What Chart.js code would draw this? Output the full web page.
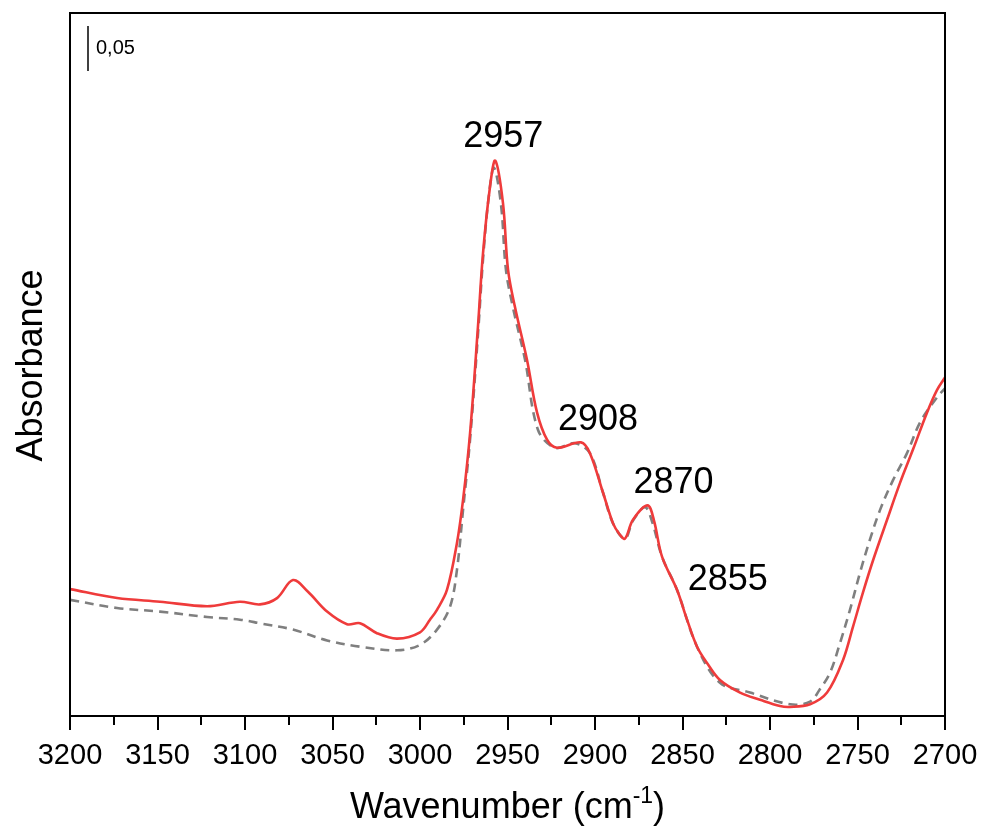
<!DOCTYPE html>
<html>
<head>
<meta charset="utf-8">
<title>Absorbance spectrum</title>
<script src="https://cdn.jsdelivr.net/npm/chart.js@4"></script>
<style>
  html, body { margin: 0; padding: 0; background: #fff; }
  #wrap { width: 981px; height: 829px; }
</style>
</head>
<body>
<div id="wrap"><canvas id="spectrum" width="981" height="829"></canvas></div>
<script>
// sample spectrum (red, solid)
const sampleWavenumber = [
    3200, 3173.1, 3148.6, 3121.7, 3102.9, 3091.4, 3081.7, 3072.6, 3064.0, 3053.1,
    3041.7, 3034.3, 3024.6, 3013.1, 3000.0, 2994.3, 2990.3, 2984.6, 2978.9, 2975.4,
    2971.4, 2966.9, 2964.0, 2960.0, 2957.0, 2952.6, 2949.7, 2945.7, 2938.9, 2933.1,
    2927.4, 2921.7, 2908.0, 2902.9, 2895.4, 2889.7, 2886.0, 2882.9, 2878.3, 2870.0,
    2866.4, 2861.7, 2853.1, 2847.4, 2841.7, 2836.0, 2828.6, 2817.1, 2805.7, 2794.3,
    2788.6, 2777.1, 2767.4, 2758.3, 2752.6, 2746.9, 2741.1, 2733.1, 2725.7, 2718.3,
    2710.3, 2704.6, 2700
];
const sampleAbsorbance = [
    0.141, 0.131, 0.127, 0.122, 0.127, 0.124, 0.131, 0.151, 0.138, 0.116,
    0.102, 0.103, 0.092, 0.086, 0.093, 0.107, 0.118, 0.140, 0.192, 0.240,
    0.314, 0.432, 0.514, 0.588, 0.617, 0.570, 0.496, 0.454, 0.396, 0.337,
    0.307, 0.298, 0.304, 0.292, 0.248, 0.214, 0.202, 0.197, 0.218, 0.234,
    0.218, 0.177, 0.140, 0.107, 0.077, 0.059, 0.040, 0.026, 0.018, 0.011,
    0.010, 0.013, 0.026, 0.062, 0.099, 0.137, 0.173, 0.218, 0.259, 0.296,
    0.337, 0.362, 0.376
];

// reference spectrum (grey, dashed)
const refWavenumber = [
    3200, 3173.1, 3148.6, 3121.7, 3102.9, 3091.4, 3072.6, 3053.1, 3034.3, 3013.1,
    3000.0, 2990.3, 2982.9, 2978.9, 2975.4, 2971.4, 2966.9, 2964.0, 2960.6, 2957.7,
    2953.7, 2950.9, 2946.9, 2940.0, 2932.6, 2922.9, 2911.4, 2902.9, 2895.4, 2889.7,
    2882.9, 2878.3, 2871.4, 2867.4, 2861.7, 2853.1, 2841.7, 2828.6, 2811.4, 2788.6,
    2777.1, 2771.4, 2765.7, 2760.0, 2754.3, 2748.6, 2742.9, 2737.1, 2729.7, 2721.7,
    2714.3, 2704.6, 2700
];
const refAbsorbance = [
    0.129, 0.120, 0.116, 0.110, 0.107, 0.103, 0.096, 0.084, 0.077, 0.073,
    0.079, 0.096, 0.121, 0.162, 0.229, 0.307, 0.423, 0.507, 0.579, 0.609,
    0.568, 0.496, 0.454, 0.396, 0.318, 0.298, 0.303, 0.292, 0.248, 0.214,
    0.197, 0.217, 0.232, 0.216, 0.177, 0.140, 0.077, 0.037, 0.026, 0.013,
    0.016, 0.030, 0.048, 0.081, 0.118, 0.159, 0.196, 0.229, 0.262, 0.292,
    0.326, 0.354, 0.364
];

const xTicks = [3200, 3150, 3100, 3050, 3000, 2950, 2900, 2850, 2800, 2750, 2700];
const peakLabels = [2957, 2908, 2870, 2855];
const scaleBarValue = 0.05;

const FONT = "'Liberation Sans', Arial, sans-serif";

// label offsets from the peak position on the red curve, in pixels
const peakLabelOffset = {
    2957: [8, -14],
    2908: [17, -12],
    2870: [26, -12],
    2855: [54, 7]
};

function toPoints(xs, ys) {
    return xs.map((x, i) => ({ x: x, y: ys[i] }));
}

function absorbanceAt(wn) {
    for (let i = 0; i < sampleWavenumber.length - 1; i++) {
        const a = sampleWavenumber[i], b = sampleWavenumber[i + 1];
        if (wn <= a && wn >= b) {
            const t = (a - wn) / (a - b);
            return sampleAbsorbance[i] + t * (sampleAbsorbance[i + 1] - sampleAbsorbance[i]);
        }
    }
    return 0;
}

const decorations = {
    id: 'decorations',
    afterDraw(chart) {
        const { ctx, chartArea: area, scales } = chart;
        const x = scales.x, y = scales.y;
        ctx.save();

        // frame
        ctx.strokeStyle = '#000';
        ctx.lineWidth = 2;
        ctx.strokeRect(area.left, area.top, area.right - area.left, area.bottom - area.top);

        // tick marks, major every 50, minor every 25
        for (let v = 2700; v <= 3200; v += 25) {
            const px = Math.round(x.getPixelForValue(v));
            const len = v % 50 === 0 ? 14 : 9;
            ctx.beginPath();
            ctx.moveTo(px, area.bottom);
            ctx.lineTo(px, area.bottom + len);
            ctx.stroke();
        }

        // scale bar
        const barTop = area.top + 13;
        const barBottom = barTop + (y.getPixelForValue(0) - y.getPixelForValue(scaleBarValue));
        ctx.lineWidth = 1.5;
        ctx.beginPath();
        ctx.moveTo(area.left + 18, barTop);
        ctx.lineTo(area.left + 18, barBottom);
        ctx.stroke();
        ctx.fillStyle = '#000';
        ctx.font = '20px ' + FONT;
        ctx.textAlign = 'left';
        ctx.textBaseline = 'middle';
        ctx.fillText(scaleBarValue.toFixed(2).replace('.', ','), area.left + 26, (barTop + barBottom) / 2);

        // peak labels
        ctx.font = '36px ' + FONT;
        ctx.textAlign = 'center';
        ctx.textBaseline = 'alphabetic';
        peakLabels.forEach(wn => {
            const off = peakLabelOffset[wn];
            const px = x.getPixelForValue(wn) + off[0];
            const py = y.getPixelForValue(absorbanceAt(wn)) + off[1];
            ctx.fillText(String(wn), px, py);
        });

        // y axis title
        ctx.save();
        ctx.translate(42, (area.top + area.bottom) / 2 + 1);
        ctx.rotate(-Math.PI / 2);
        ctx.textAlign = 'center';
        ctx.fillText('Absorbance', 0, 0);
        ctx.restore();

        // x axis title with superscript
        const main = 'Wavenumber (cm';
        const sup = '-1';
        const tail = ')';
        ctx.font = '36px ' + FONT;
        const wMain = ctx.measureText(main).width;
        const wTail = ctx.measureText(tail).width;
        ctx.font = '23px ' + FONT;
        const wSup = ctx.measureText(sup).width;
        const total = wMain + wSup + wTail;
        let sx = (area.left + area.right) / 2 - total / 2;
        const base = 818;
        ctx.textAlign = 'left';
        ctx.font = '36px ' + FONT;
        ctx.fillText(main, sx, base);
        sx += wMain;
        ctx.font = '23px ' + FONT;
        ctx.fillText(sup, sx, base - 15);
        sx += wSup;
        ctx.font = '36px ' + FONT;
        ctx.fillText(tail, sx, base);

        ctx.restore();
    }
};

const ctx = document.getElementById('spectrum').getContext('2d');

const chart = new Chart(ctx, {
    type: 'line',
    data: {
        datasets: [
            {
                label: 'sample',
                data: toPoints(sampleWavenumber, sampleAbsorbance),
                borderColor: '#ef3b3b',
                borderWidth: 2.6,
                pointRadius: 0,
                tension: 0.35,
                fill: false
            },
            {
                label: 'reference',
                data: toPoints(refWavenumber, refAbsorbance),
                borderColor: '#7f7f7f',
                borderWidth: 2.6,
                borderDash: [9, 6],
                pointRadius: 0,
                tension: 0.35,
                fill: false
            }
        ]
    },
    options: {
        responsive: false,
        animation: false,
        layout: { padding: { top: 13, right: 36, left: 0, bottom: 0 } },
        plugins: {
            legend: { display: false },
            tooltip: { enabled: false }
        },
        scales: {
            x: {
                type: 'linear',
                reverse: true,
                min: 2700,
                max: 3200,
                afterFit(scale) {
                    scale.height = 113;
                    scale.paddingLeft = 0;
                    scale.paddingRight = 0;
                },
                afterBuildTicks(scale) {
                    scale.ticks = xTicks.map(v => ({ value: v }));
                },
                grid: { display: false, drawTicks: false },
                border: { display: false },
                ticks: {
                    color: '#000',
                    font: { family: FONT, size: 29 },
                    padding: 23,
                    maxRotation: 0,
                    autoSkip: false,
                    callback: v => String(v)
                }
            },
            y: {
                min: 0,
                max: 0.781,
                afterFit(scale) { scale.width = 70; },
                grid: { display: false, drawTicks: false },
                border: { display: false },
                ticks: { display: false }
            }
        }
    },
    plugins: [decorations]
});
</script>
</body>
</html>
